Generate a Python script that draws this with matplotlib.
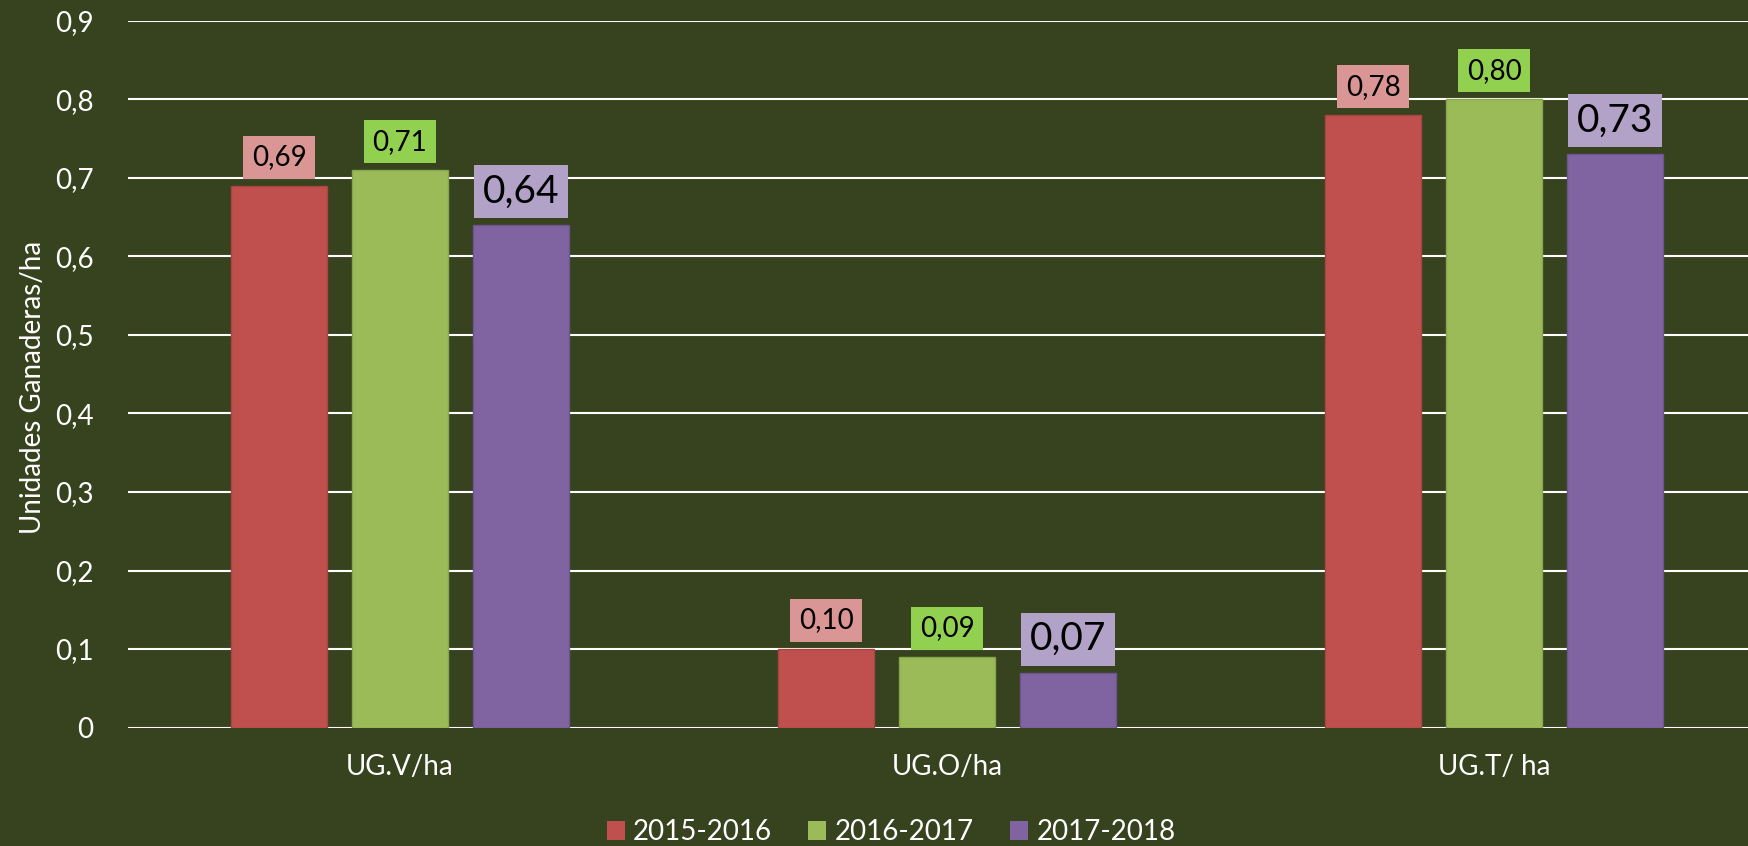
import numpy as np
import matplotlib.pyplot as plt

plt.rcParams['font.family'] = ['Lato', 'DejaVu Sans']

# datos
categorias = ['UG.V/ha', 'UG.O/ha', 'UG.T/ ha']
campanas = ['2015-2016', '2016-2017', '2017-2018']
v_2015 = [0.69, 0.10, 0.78]
v_2016 = [0.71, 0.09, 0.80]
v_2017 = [0.64, 0.07, 0.73]
y_ticks = [0, 0.1, 0.2, 0.3, 0.4, 0.5, 0.6, 0.7, 0.8, 0.9]

fondo = '#37421E'
colores = ['#C0504D', '#9BBB59', '#8064A2']
bordes = ['#A84542', '#87A54C', '#6C5590']
cajas = ['#DA9694', '#92D050', '#B3A2C7']
tam_etiqueta = [20, 20, 28]

fig = plt.figure(figsize=(17.48, 8.46), dpi=100, facecolor=fondo)
ax = fig.add_axes([128/1748, 1 - 727.5/846, 1 - 128/1748, (727.5 - 21)/846])
ax.set_facecolor(fondo)

x = np.arange(len(categorias))
ancho = 0.1755
paso = 0.221
series = [v_2015, v_2016, v_2017]

for i, vals in enumerate(series):
    xs = x + (i - 1) * paso
    ax.bar(xs, vals, ancho, color=colores[i], edgecolor=bordes[i], linewidth=1,
           label=campanas[i], zorder=3)
    fs = tam_etiqueta[i]
    pad_px = 8.5
    for xi, v in zip(xs, vals):
        ax.annotate(f'{v:.2f}'.replace('.', ','), xy=(xi, v),
                    xytext=(0, (7 + pad_px) * 0.72), textcoords='offset points',
                    ha='center', va='bottom', fontsize=fs, color='black', zorder=5,
                    bbox=dict(boxstyle='square,pad=%.3f' % (pad_px * 0.72 / fs),
                              facecolor=cajas[i], edgecolor='none'))

ax.set_xlim(-0.497, 2.464)
ax.set_ylim(0, 0.9)
ax.set_yticks(y_ticks)
ax.set_yticklabels([('%g' % t).replace('.', ',') for t in y_ticks])
ax.set_xticks(x)
ax.set_xticklabels(categorias)
ax.tick_params(axis='y', length=0, pad=25, labelsize=20, labelcolor='white')
ax.tick_params(axis='x', length=0, pad=19, labelsize=20, labelcolor='white')
ax.grid(axis='y', color='white', linewidth=1.5, zorder=1)
for s in ax.spines.values():
    s.set_visible(False)

fig.text(33/1748, 1 - 387/846, 'Unidades Ganaderas/ha', rotation=90,
         ha='center', va='center', fontsize=20, color='white')

leg = fig.legend(loc='center', bbox_to_anchor=(891/1748, 1 - 832/846), ncol=3,
                 frameon=False, fontsize=20, handlelength=0.65, handleheight=0.65,
                 handletextpad=0.3, columnspacing=1.3, labelcolor='white')
for h in leg.legend_handles:
    h.set_edgecolor('none')

fig.savefig('out.png', dpi=100, facecolor=fondo)
